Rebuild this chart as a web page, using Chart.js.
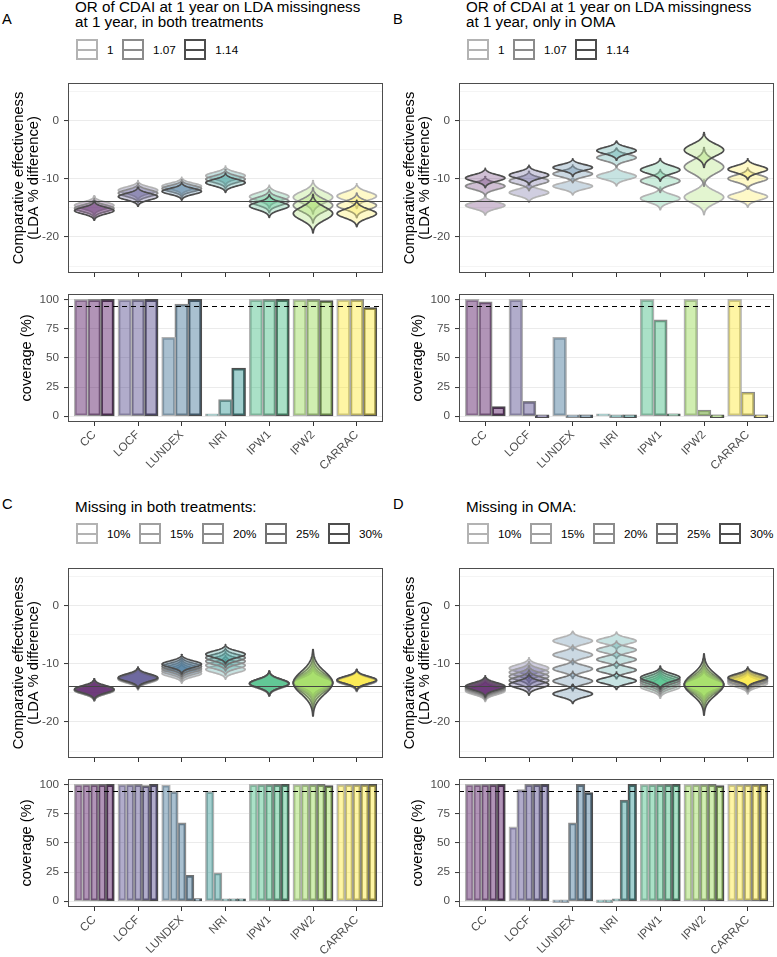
<!DOCTYPE html>
<html>
<head>
<meta charset="utf-8">
<script src="https://cdn.jsdelivr.net/npm/chart.js@4.4.1/dist/chart.umd.min.js"></script>
<style>
  body { margin: 0; background: #fff; font-family: "Liberation Sans", Arial, sans-serif; color: #000; }
  #fig { position: relative; width: 777px; height: 957px; overflow: hidden; }
  #fig canvas { position: absolute; }
  .tag { position: absolute; font-size: 14.67px; line-height: 15px; }
  .ttl { position: absolute; font-size: 15.2px; line-height: 15px; white-space: nowrap; }
  .leg { position: absolute; display: flex; align-items: center; height: 21px; font-size: 11.73px; white-space: nowrap; }
  .key { box-sizing: border-box; position: relative; width: 22px; height: 21px; border: 2px solid currentColor; margin-right: 9px; }
  .key::after { content: ""; position: absolute; left: 0; right: 0; top: 50%; margin-top: -1px; border-top: 2px solid currentColor; }
  .lab { margin-right: 8.5px; color: #000; }
</style>
</head>
<body>
<div id="fig"></div>
<script>
const methods = ["CC", "LOCF", "LUNDEX", "NRI", "IPW1", "IPW2", "CARRAC"]
const orLevels = ["1", "1.07", "1.14"]
const missLevels = ["10%", "15%", "20%", "25%", "30%"]
const effTicks = [-20, -10, 0]
const covTicks = [0, 25, 50, 75, 100]
const trueEffect = -13.8
const nominalCoverage = 95

// violin centres (LDA % difference), one row per level
const midA = [
  [-14.6, -12.0, -11.3, -9.5, -13.1, -13.2, -13.0],
  [-15.1, -12.5, -11.7, -10.1, -13.9, -14.6, -14.6],
  [-15.5, -13.1, -12.2, -10.7, -14.7, -16.0, -16.0],
]
const sdA = [
  [0.55, 0.55, 0.5, 0.55, 0.65, 0.95, 0.7],
  [0.55, 0.55, 0.5, 0.55, 0.65, 1.0, 0.7],
  [0.55, 0.55, 0.5, 0.55, 0.65, 1.1, 0.75],
]
const midB = [
  [-14.6, -12.4, -11.3, -9.6, -13.4, -13.2, -13.1],
  [-11.3, -10.4, -9.2, -6.4, -10.4, -8.0, -10.0],
  [-9.9, -9.4, -8.1, -5.2, -8.5, -5.1, -8.4],
]
const sdB = [
  [0.55, 0.55, 0.5, 0.55, 0.65, 1.0, 0.6],
  [0.55, 0.55, 0.5, 0.55, 0.65, 1.1, 0.6],
  [0.55, 0.55, 0.5, 0.55, 0.65, 1.0, 0.6],
]
const midC = [
  [-14.6, -12.7, -11.7, -11.0, -13.5, -13.3, -13.0],
  [-14.6, -12.6, -11.3, -10.3, -13.5, -13.3, -12.95],
  [-14.5, -12.55, -10.9, -9.6, -13.4, -13.3, -12.9],
  [-14.5, -12.5, -10.5, -9.0, -13.4, -13.3, -12.85],
  [-14.4, -12.4, -10.1, -8.4, -13.4, -13.3, -12.8],
]
const sdC = [
  [0.6, 0.6, 0.55, 0.55, 0.7, 0.8, 0.6],
  [0.6, 0.6, 0.55, 0.55, 0.7, 1.0, 0.6],
  [0.6, 0.6, 0.55, 0.55, 0.7, 1.2, 0.6],
  [0.6, 0.6, 0.55, 0.55, 0.7, 1.5, 0.6],
  [0.6, 0.6, 0.55, 0.55, 0.7, 1.9, 0.6],
]
const midD = [
  [-14.7, -10.8, -6.1, -6.1, -14.0, -13.6, -13.4],
  [-14.5, -11.5, -8.5, -7.65, -13.6, -13.6, -13.1],
  [-14.3, -12.2, -10.9, -9.3, -13.2, -13.6, -12.9],
  [-14.1, -12.9, -13.0, -11.1, -12.8, -13.6, -12.6],
  [-13.9, -13.6, -15.2, -12.95, -12.4, -13.6, -12.4],
]
const sdD = [
  [0.6, 0.6, 0.55, 0.5, 0.65, 0.8, 0.6],
  [0.6, 0.6, 0.55, 0.5, 0.65, 0.95, 0.6],
  [0.6, 0.6, 0.55, 0.5, 0.65, 1.15, 0.6],
  [0.6, 0.6, 0.55, 0.5, 0.65, 1.4, 0.6],
  [0.6, 0.6, 0.55, 0.5, 0.65, 1.75, 0.6],
]

// coverage (%), one row per level
const covA = [
  [100, 100, 67.5, 1, 100, 100, 100],
  [100, 100, 96, 14, 100, 100, 100],
  [100, 100, 100, 41, 100, 99, 93],
]
const covB = [
  [100, 100, 67.5, 1, 100, 100, 100],
  [98, 12.5, 0, 0, 82.5, 5, 20.5],
  [8, 0, 0, 0, 1, 0, 0],
]
const covC = [
  [100, 100, 99.5, 94, 100, 100, 100],
  [100, 100, 94, 24, 100, 100, 100],
  [100, 100, 67, 1, 100, 100, 100],
  [100, 99, 22, 0.5, 100, 100, 100],
  [100, 100, 2, 0.5, 100, 99, 100],
]
const covD = [
  [100, 63.5, 0, 0, 100, 100, 100],
  [100, 95.5, 0, 0, 100, 100, 100],
  [100, 100, 67, 1, 100, 100, 100],
  [100, 100, 100, 86.5, 100, 100, 100],
  [100, 100, 93, 100, 100, 99, 100],
]

const viridis = ["#440154", "#443A83", "#31688E", "#21908C", "#35B779", "#8FD744", "#FDE725"]
const greys3 = ["#B3B3B3", "#8B8B8B", "#4D4D4D"]
const greys5 = ["#B3B3B3", "#A0A0A0", "#8B8B8B", "#717171", "#4D4D4D"]

const panels = [
  { tag: "A", title: ["OR of CDAI at 1 year on LDA missingness", "at 1 year, in both treatments"], levels: orLevels, greys: greys3, mid: midA, sd: sdA, cov: covA, x: 0, dy: 0, titleTop: -1.2, legTop: 39 },
  { tag: "B", title: ["OR of CDAI at 1 year on LDA missingness", "at 1 year, only in OMA"], levels: orLevels, greys: greys3, mid: midB, sd: sdB, cov: covB, x: 391, dy: 0, titleTop: -1.2, legTop: 39 },
  { tag: "C", title: ["Missing in both treatments:"], levels: missLevels, greys: greys5, mid: midC, sd: sdC, cov: covC, x: 0, dy: 485, titleTop: 498.8, legTop: 523 },
  { tag: "D", title: ["Missing in OMA:"], levels: missLevels, greys: greys5, mid: midD, sd: sdD, cov: covD, x: 391, dy: 485, titleTop: 498.8, legTop: 523 },
]

Chart.defaults.font.family = "'Liberation Sans', Arial, sans-serif"
Chart.defaults.color = "#4D4D4D"

const fig = document.getElementById("fig")
const tickFont = { size: 11.73 }

function rgba(hex, a) {
  const n = parseInt(hex.slice(1), 16)
  return `rgba(${n >> 16},${(n >> 8) & 255},${n & 255},${a})`
}

function addEl(cls, left, top, html) {
  const el = document.createElement("div")
  el.className = cls
  el.style.left = left + "px"
  el.style.top = top + "px"
  el.innerHTML = html
  fig.appendChild(el)
  return el
}

function makeCanvas(left, top, w, h) {
  const c = document.createElement("canvas")
  c.width = w
  c.height = h
  c.style.left = left + "px"
  c.style.top = top + "px"
  c.style.width = w + "px"
  c.style.height = h + "px"
  fig.appendChild(c)
  return c
}

// major ticks plus the minor grid halfway between them
function gridTicks(major, lo, hi) {
  const step = major[1] - major[0]
  const out = []
  for (let v = major[0] - step; v <= hi + 1e-9; v += step / 2) if (v >= lo) out.push(v)
  return out
}

function fixBox(w, h) {
  return (s) => {
    if (w !== undefined) s.width = w
    if (h !== undefined) s.height = h
    s.paddingTop = s.paddingBottom = s.paddingLeft = s.paddingRight = 0
  }
}

function xScale(showLabels) {
  return {
    type: "linear",
    min: -0.6,
    max: 6.6,
    offset: false,
    bounds: "data",
    afterBuildTicks: (s) => { s.ticks = methods.map((m, i) => ({ value: i })) },
    afterFit: fixBox(undefined, showLabels ? 52 : 6),
    grid: { offset: false, drawOnChartArea: false, drawTicks: true, tickLength: 4, tickColor: "#333", tickWidth: 1 },
    border: { display: false },
    ticks: {
      display: showLabels, autoSkip: false, minRotation: 45, maxRotation: 45, padding: 2,
      color: "#4D4D4D", font: tickFont, callback: (v) => methods[v],
    },
  }
}

function yScale(major, lo, hi, title, titlePad) {
  const isMajor = (c) => c.tick && major.includes(c.tick.value)
  return {
    type: "linear",
    min: lo,
    max: hi,
    bounds: "data",
    afterBuildTicks: (s) => { s.ticks = gridTicks(major, lo, hi).map((v) => ({ value: v })) },
    afterFit: fixBox(68),
    grid: {
      color: "#EBEBEB",
      lineWidth: (c) => (isMajor(c) ? 1.1 : 0.55),
      drawTicks: true,
      tickLength: 4,
      tickWidth: 1,
      tickColor: (c) => (isMajor(c) ? "#333" : "rgba(0,0,0,0)"),
    },
    border: { display: false },
    ticks: { padding: 5, color: "#4D4D4D", font: tickFont, callback: (v) => (major.includes(v) ? String(v) : "") },
    title: { display: true, text: title, color: "#000", font: { size: 14.67, lineHeight: 1.05 }, padding: { top: titlePad, bottom: 0 } },
  }
}

const violinPlugin = {
  id: "violins",
  beforeDatasetsDraw(chart) {
    const { ctx, chartArea: a, scales: { x, y } } = chart
    ctx.save()
    ctx.beginPath()
    ctx.rect(a.left, a.top, a.width, a.height)
    ctx.clip()
    chart.data.datasets.forEach((ds) => {
      ds.data.forEach((pt, i) => {
        const sd = ds.sd[i]
        const cx = x.getPixelForValue(pt.x)
        const hw = x.getPixelForValue(pt.x + 0.45) - cx
        const n = 60
        const side = []
        for (let k = 0; k <= n; k++) {
          const v = pt.y - 3 * sd + (6 * sd * k) / n
          side.push([hw * Math.exp(-0.5 * ((v - pt.y) / sd) ** 2), y.getPixelForValue(v)])
        }
        ctx.beginPath()
        side.forEach(([w, py], k) => (k ? ctx.lineTo(cx + w, py) : ctx.moveTo(cx + w, py)))
        for (let k = n; k >= 0; k--) ctx.lineTo(cx - side[k][0], side[k][1])
        ctx.closePath()
        ctx.fillStyle = ds.backgroundColor[i]
        ctx.fill()
        ctx.lineWidth = 1.7
        ctx.lineJoin = "round"
        ctx.strokeStyle = ds.borderColor
        ctx.stroke()
      })
    })
    ctx.restore()
  },
}

const framePlugin = {
  id: "frame",
  afterDatasetsDraw(chart, args, opts) {
    const { ctx, chartArea: a, scales: { y } } = chart
    const py = Math.round(y.getPixelForValue(opts.refY)) + 0.5
    ctx.save()
    ctx.setLineDash(opts.dash || [])
    ctx.strokeStyle = opts.color
    ctx.lineWidth = opts.width
    ctx.beginPath()
    ctx.moveTo(a.left, py)
    ctx.lineTo(a.right, py)
    ctx.stroke()
    ctx.restore()
  },
  afterDraw(chart) {
    const { ctx, chartArea: a } = chart
    ctx.save()
    ctx.strokeStyle = "#4D4D4D"
    ctx.lineWidth = 1
    ctx.strokeRect(a.left + 0.5, a.top + 0.5, a.width - 1, a.height - 1)
    ctx.restore()
  },
}

panels.forEach((p) => {
  // text: panel tag, legend title and keys
  addEl("tag", p.x + 2, p.dy + 12.4, p.tag)
  addEl("ttl", p.x + 75, p.titleTop, p.title.join("<br>"))
  const leg = addEl("leg", p.x + 76, p.legTop, "")
  p.levels.forEach((lev, d) => {
    leg.innerHTML += `<span class="key" style="color:${p.greys[d]}"></span><span class="lab">${lev}</span>`
  })

  // violins
  new Chart(makeCanvas(p.x, 82 + p.dy, 386, 197), {
    type: "scatter",
    data: {
      datasets: p.levels.map((lev, d) => ({
        label: lev,
        data: methods.map((m, i) => ({ x: i, y: p.mid[d][i] })),
        sd: p.sd[d],
        backgroundColor: viridis.map((c) => rgba(c, 0.25)),
        borderColor: p.greys[d],
        pointRadius: 0,
      })),
    },
    options: {
      responsive: false,
      animation: false,
      events: [],
      devicePixelRatio: 1,
      layout: { padding: { top: 1, right: 3, left: 0, bottom: 0 } },
      plugins: {
        legend: { display: false },
        tooltip: { enabled: false },
        frame: { refY: trueEffect, color: "#444", width: 1.2 },
      },
      scales: {
        x: xScale(false),
        y: yScale(effTicks, -26.2, 6.4, ["Comparative effectiveness", "(LDA % difference)"], 10.8),
      },
    },
    plugins: [violinPlugin, framePlugin],
  })

  // coverage bars
  new Chart(makeCanvas(p.x, 293 + p.dy, 386, 181), {
    type: "bar",
    data: {
      datasets: p.levels.map((lev, d) => ({
        label: lev,
        data: methods.map((m, i) => ({ x: i, y: p.cov[d][i] })),
        backgroundColor: viridis.map((c) => rgba(c, 0.42)),
        borderColor: p.greys[d],
        borderWidth: 1.4,
        borderSkipped: false,
        inflateAmount: 0.7,
        minBarLength: 2,
        categoryPercentage: 0.9,
        barPercentage: 1,
      })),
    },
    options: {
      responsive: false,
      animation: false,
      events: [],
      devicePixelRatio: 1,
      layout: { padding: { top: 1, right: 3, left: 0, bottom: 0 } },
      plugins: {
        legend: { display: false },
        tooltip: { enabled: false },
        frame: { refY: nominalCoverage, color: "#000", width: 1.1, dash: [5, 4] },
      },
      scales: {
        x: xScale(true),
        y: yScale(covTicks, -5, 105, "coverage (%)", 19.3),
      },
    },
    plugins: [framePlugin],
  })
})
</script>
</body>
</html>
